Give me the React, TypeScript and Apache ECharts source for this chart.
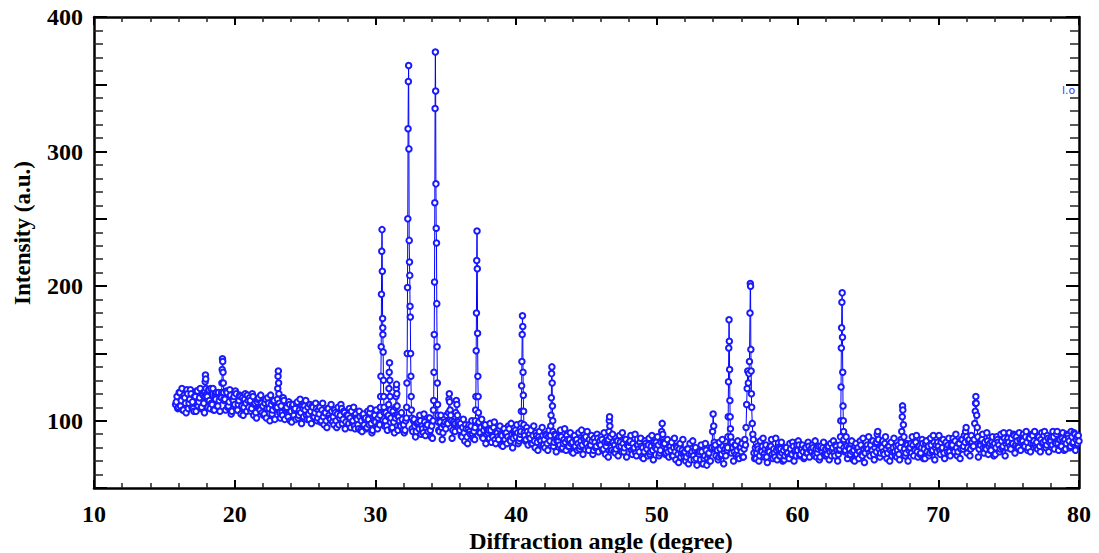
import React, { useEffect, useRef } from "react";
import * as echarts from "echarts";

// ---- data ----
const bgStart = 15.8;
const bgStep = 0.1;
// background intensities, one value every 0.1 degree from 15.8
const background: number[] = [
  112, 118,
  110, 121, 115, 108, 119, 113, 123, 109, 116, 120, // 16
  114, 107, 118, 122, 111, 117, 109, 120, 113, 116, // 17
  119, 110, 115, 124, 112, 108, 117, 121, 111, 115, // 18
  118, 113, 109, 116, 122, 110, 114, 119, 107, 115, // 19
  112, 120, 108, 115, 118, 111, 104, 116, 113, 119, // 20
  110, 115, 109, 118, 112, 106, 114, 117, 108, 113, // 21
  111, 105, 116, 109, 113, 100, 112, 108, 115, 110, // 22
  109, 113, 106, 111, 104, 115, 108, 110, 103, 112, // 23
  107, 111, 104, 109, 113, 102, 108, 106, 111, 103, // 24
  108, 104, 110, 101, 107, 111, 103, 106, 109, 102, // 25
  105, 99, 108, 103, 106, 100, 109, 104, 101, 107, // 26
  103, 108, 100, 105, 97, 104, 109, 101, 106, 99, // 27
  104, 98, 102, 107, 100, 96, 105, 101, 94, 103, // 28
  100, 104, 97, 102, 95, 101, 106, 98, 93, 100, // 29
  99, 95, 102, 97, 101, 94, 98, 100, 96, 103, // 30
  98, 102, 95, 99, 104, 97, 93, 100, 96, 101, // 31
  97, 93, 99, 102, 95, 98, 94, 100, 96, 92, // 32
  98, 94, 100, 96, 91, 99, 95, 97, 102, 93, // 33
  96, 92, 98, 94, 97, 93, 99, 95, 91, 97, // 34
  94, 98, 92, 96, 100, 93, 97, 91, 95, 99, // 35
  93, 89, 95, 91, 97, 88, 94, 92, 96, 90, // 36
  92, 96, 89, 94, 91, 95, 88, 93, 97, 90, // 37
  91, 87, 93, 89, 95, 86, 92, 88, 94, 90, // 38
  89, 93, 86, 91, 88, 94, 85, 90, 87, 92, // 39
  88, 91, 85, 90, 87, 84, 89, 86, 92, 88, // 40
  87, 83, 89, 85, 91, 84, 88, 86, 82, 89, // 41
  86, 90, 83, 88, 85, 81, 87, 84, 89, 85, // 42
  85, 82, 88, 80, 86, 84, 89, 81, 86, 83, // 43
  84, 88, 81, 86, 83, 79, 85, 82, 87, 84, // 44
  83, 80, 86, 82, 85, 78, 84, 81, 87, 83, // 45
  82, 86, 79, 84, 81, 85, 80, 83, 78, 84, // 46
  82, 79, 85, 81, 84, 77, 83, 80, 86, 82, // 47
  81, 85, 78, 83, 80, 76, 82, 79, 84, 81, // 48
  80, 77, 83, 79, 82, 75, 81, 78, 84, 80, // 49
  79, 82, 76, 80, 78, 83, 75, 79, 77, 81, // 50
  78, 74, 80, 77, 81, 75, 79, 73, 78, 76, // 51
  77, 73, 79, 75, 71, 77, 74, 78, 72, 76, // 52
  75, 71, 77, 68, 74, 78, 72, 76, 70, 79, // 53
  76, 80, 74, 78, 73, 79, 75, 81, 77, 74, // 54
  78, 75, 79, 76, 80, 77, 82, 78, 74, 80, // 55
  77, 73, 79, 71, 76, 80, 74, 78, 82, 76, // 56
  80, 76, 79, 74, 78, 81, 75, 79, 73, 78, // 57
  77, 81, 75, 79, 73, 78, 80, 74, 79, 76, // 58
  78, 74, 80, 76, 72, 79, 75, 81, 77, 74, // 59
  78, 82, 75, 79, 77, 73, 80, 76, 81, 78, // 60
  77, 80, 74, 79, 76, 81, 73, 78, 80, 75, // 61
  79, 75, 81, 77, 74, 80, 76, 82, 78, 75, // 62
  79, 82, 76, 80, 78, 81, 75, 79, 83, 77, // 63
  78, 81, 75, 80, 77, 82, 74, 79, 76, 80, // 64
  79, 76, 82, 78, 75, 80, 77, 83, 79, 76, // 65
  80, 77, 83, 79, 76, 81, 78, 74, 80, 77, // 66
  81, 78, 75, 80, 77, 82, 79, 76, 82, 78, // 67
  80, 76, 82, 79, 84, 77, 81, 75, 80, 83, // 68
  79, 83, 77, 81, 76, 82, 78, 84, 80, 77, // 69
  81, 78, 84, 80, 76, 83, 79, 82, 77, 81, // 70
  82, 78, 85, 80, 77, 83, 79, 86, 81, 78, // 71
  83, 80, 86, 79, 84, 81, 78, 85, 82, 79, // 72
  82, 86, 80, 84, 79, 85, 81, 78, 84, 82, // 73
  83, 80, 86, 82, 79, 85, 81, 87, 83, 80, // 74
  84, 81, 87, 83, 89, 82, 85, 80, 86, 84, // 75
  85, 82, 88, 84, 80, 87, 83, 89, 85, 82, // 76
  84, 88, 81, 86, 83, 89, 85, 82, 87, 84, // 77
  85, 82, 88, 84, 90, 83, 86, 81, 87, 85, // 78
  86, 83, 89, 85, 81, 88, 84, 90, 86, 83, // 79
  85,
];

// interleaved background readings, one every 0.1 degree from 15.85
const bg2Start = 15.85;
const background2: number[] = [
  114, 109,
  121, 111, 124, 108, 117, 106, 120, 113, 123, 110, // 16
  109, 118, 107, 122, 114, 124, 110, 119, 106, 116, // 17
  118, 123, 109, 113, 124, 108, 116, 111, 121, 107, // 18
  106, 119, 115, 108, 121, 111, 123, 105, 116, 118, // 19
  122, 108, 112, 119, 105, 117, 110, 120, 107, 115, // 20
  117, 107, 120, 104, 113, 102, 116, 109, 119, 106, // 21
  104, 113, 102, 117, 109, 119, 105, 114, 101, 111, // 22
  111, 116, 102, 106, 117, 101, 109, 104, 114, 100, // 23
  99, 112, 108, 101, 114, 104, 116, 98, 109, 111, // 24
  115, 101, 105, 112, 98, 110, 103, 113, 100, 108, // 25
  110, 100, 113, 97, 106, 95, 109, 102, 112, 99, // 26
  97, 106, 95, 110, 102, 112, 98, 107, 94, 104, // 27
  104, 109, 95, 99, 110, 94, 102, 97, 107, 93, // 28
  92, 105, 101, 94, 107, 97, 109, 91, 102, 104, // 29
  108, 94, 98, 105, 91, 103, 96, 106, 93, 101, // 30
  104, 94, 107, 91, 100, 89, 103, 96, 106, 93, // 31
  91, 100, 89, 104, 96, 106, 92, 101, 88, 98, // 32
  99, 104, 90, 94, 105, 89, 97, 92, 102, 88, // 33
  87, 100, 96, 89, 102, 92, 104, 86, 97, 99, // 34
  104, 90, 94, 101, 87, 99, 92, 102, 89, 97, // 35
  98, 88, 101, 85, 94, 83, 97, 90, 100, 87, // 36
  86, 95, 84, 99, 91, 101, 87, 96, 83, 93, // 37
  93, 98, 84, 88, 99, 83, 91, 86, 96, 82, // 38
  81, 94, 90, 83, 96, 86, 98, 80, 91, 93, // 39
  97, 83, 87, 94, 80, 92, 85, 95, 82, 90, // 40
  93, 83, 96, 80, 89, 78, 92, 85, 95, 82, // 41
  80, 89, 78, 93, 85, 95, 81, 90, 77, 87, // 42
  88, 93, 79, 83, 94, 78, 86, 81, 91, 77, // 43
  76, 89, 85, 78, 91, 81, 93, 75, 86, 88, // 44
  92, 78, 82, 89, 75, 87, 80, 90, 77, 85, // 45
  88, 78, 91, 75, 84, 73, 87, 80, 90, 77, // 46
  76, 85, 74, 89, 81, 91, 77, 86, 73, 83, // 47
  84, 89, 75, 79, 90, 74, 82, 77, 87, 73, // 48
  72, 85, 81, 74, 87, 77, 89, 71, 82, 84, // 49
  88, 74, 78, 85, 71, 83, 76, 86, 73, 81, // 50
  84, 74, 87, 71, 80, 69, 83, 76, 86, 73, // 51
  70, 79, 68, 83, 75, 85, 71, 80, 67, 77, // 52
  77, 82, 68, 72, 83, 67, 75, 70, 80, 66, // 53
  69, 82, 78, 71, 84, 74, 86, 68, 79, 81, // 54
  87, 73, 77, 84, 70, 82, 75, 85, 72, 80, // 55
  83, 73, 86, 70, 79, 68, 82, 75, 85, 72, // 56
  72, 81, 70, 85, 77, 87, 73, 82, 69, 79, // 57
  81, 86, 72, 76, 87, 71, 79, 74, 84, 70, // 58
  71, 80, 76, 73, 83, 75, 84, 70, 78, 82, // 59
  85, 74, 79, 82, 72, 80, 76, 84, 73, 79, // 60
  82, 75, 85, 73, 79, 71, 81, 77, 84, 74, // 61
  74, 80, 71, 83, 78, 85, 74, 81, 70, 78, // 62
  82, 87, 73, 77, 88, 72, 80, 75, 85, 71, // 63
  70, 83, 79, 72, 85, 75, 87, 69, 80, 82, // 64
  88, 74, 78, 85, 71, 83, 76, 86, 73, 81, // 65
  85, 75, 88, 72, 81, 70, 84, 77, 87, 74, // 66
  73, 82, 71, 86, 78, 88, 74, 83, 70, 80, // 67
  83, 88, 74, 78, 89, 73, 81, 76, 86, 72, // 68
  72, 85, 81, 74, 87, 77, 89, 71, 82, 84, // 69
  89, 75, 79, 86, 72, 84, 77, 87, 74, 82, // 70
  87, 77, 90, 74, 83, 72, 86, 79, 89, 76, // 71
  76, 85, 74, 89, 81, 91, 77, 86, 73, 83, // 72
  85, 90, 76, 80, 91, 75, 83, 78, 88, 74, // 73
  75, 88, 84, 77, 90, 80, 91, 74, 85, 87, // 74
  91, 79, 83, 90, 76, 88, 81, 91, 78, 86, // 75
  90, 81, 92, 78, 87, 77, 90, 83, 92, 80, // 76
  79, 88, 77, 91, 84, 92, 80, 89, 77, 86, // 77
  88, 92, 79, 83, 92, 78, 86, 81, 91, 78, // 78
  79, 90, 87, 80, 92, 83, 91, 78, 88, 89, // 79
];

// diffraction peaks, sampled finely: [angle, intensity]
const peak1794: number[][] = [[17.86, 118], [17.88, 122], [17.9, 129], [17.92, 134], [17.94, 131], [17.96, 124], [17.98, 119]];
const peak1915: number[][] = [[19.05, 117], [19.07, 121], [19.09, 128], [19.11, 138], [19.13, 146], [19.15, 144], [19.17, 136], [19.19, 128], [19.21, 121], [19.23, 116]];
const peak2310: number[][] = [[23.02, 110], [23.04, 116], [23.06, 124], [23.08, 133], [23.1, 137], [23.12, 128], [23.14, 120], [23.16, 113]];
const peak3047: number[][] = [[30.33, 104], [30.35, 110], [30.37, 118], [30.39, 133], [30.41, 155], [30.43, 194], [30.45, 226], [30.47, 242], [30.49, 211], [30.51, 176], [30.52, 169], [30.53, 164], [30.55, 151], [30.57, 130], [30.59, 118], [30.61, 110], [30.63, 106]];
const peak3100: number[][] = [[30.92, 104], [30.94, 112], [30.96, 124], [30.98, 136], [31.0, 143], [31.02, 130], [31.04, 118], [31.06, 108]];
const peak3150: number[][] = [[31.42, 102], [31.44, 110], [31.46, 118], [31.48, 124], [31.5, 127], [31.52, 120], [31.54, 111], [31.56, 104]];
const peak3236: number[][] = [[32.2, 102], [32.22, 110], [32.24, 128], [32.26, 150], [32.28, 199], [32.3, 250], [32.32, 317], [32.34, 352], [32.36, 364], [32.38, 302], [32.4, 234], [32.42, 218], [32.44, 208], [32.46, 185], [32.48, 177], [32.5, 150], [32.52, 133], [32.54, 118], [32.56, 108], [32.58, 102]];
const peak3426: number[][] = [[34.1, 100], [34.12, 108], [34.14, 115], [34.16, 136], [34.18, 164], [34.2, 203], [34.22, 262], [34.24, 332], [34.26, 374], [34.28, 345], [34.3, 276], [34.32, 243], [34.34, 232], [34.36, 187], [34.38, 155], [34.4, 128], [34.42, 112], [34.44, 104], [34.46, 99]];
const peak3525: number[][] = [[35.15, 98], [35.19, 106], [35.23, 116], [35.25, 120], [35.27, 114], [35.31, 108], [35.35, 104]];
const peak3575: number[][] = [[35.67, 98], [35.71, 106], [35.75, 115], [35.79, 112], [35.83, 104], [35.87, 98]];
const peak3722: number[][] = [[37.08, 95], [37.1, 100], [37.12, 108], [37.14, 118], [37.16, 152], [37.18, 180], [37.2, 219], [37.22, 241], [37.24, 213], [37.26, 165], [37.28, 133], [37.3, 118], [37.32, 106], [37.34, 98]];
const peak4047: number[][] = [[40.33, 92], [40.35, 98], [40.37, 107], [40.39, 126], [40.41, 144], [40.43, 164], [40.45, 178], [40.47, 170], [40.49, 136], [40.51, 119], [40.53, 107], [40.55, 97], [40.57, 91]];
const peak4256: number[][] = [[42.44, 89], [42.46, 96], [42.48, 104], [42.5, 117], [42.52, 135], [42.54, 140], [42.56, 128], [42.58, 111], [42.6, 100], [42.62, 92]];
const peak4666: number[][] = [[46.56, 86], [46.6, 92], [46.62, 100], [46.64, 103], [46.66, 96], [46.7, 88]];
const peak5038: number[][] = [[50.3, 84], [50.34, 92], [50.38, 98], [50.42, 90], [50.46, 84]];
const peak5400: number[][] = [[53.92, 80], [53.96, 92], [54.0, 105], [54.04, 96], [54.08, 84]];
const peak5517: number[][] = [[55.03, 80], [55.05, 88], [55.07, 103], [55.09, 129], [55.11, 154], [55.13, 175], [55.15, 159], [55.17, 138], [55.19, 115], [55.21, 103], [55.23, 94], [55.25, 88], [55.27, 84]];
const peak5664: number[][] = [[56.3, 82], [56.34, 95], [56.38, 112], [56.42, 124], [56.46, 137], [56.5, 128], [56.54, 135], [56.58, 144], [56.62, 180], [56.64, 202], [56.66, 200], [56.68, 153], [56.7, 137], [56.72, 120], [56.74, 110], [56.78, 98], [56.82, 90], [56.86, 86]];
const peak6317: number[][] = [[63.03, 82], [63.05, 88], [63.07, 100], [63.09, 125], [63.11, 154], [63.13, 169], [63.15, 188], [63.17, 195], [63.19, 162], [63.21, 136], [63.23, 111], [63.25, 100], [63.27, 92], [63.29, 86]];
const peak6568: number[][] = [[65.62, 84], [65.66, 90], [65.7, 92], [65.74, 86]];
const peak6746: number[][] = [[67.36, 84], [67.4, 92], [67.44, 103], [67.46, 111], [67.48, 108], [67.52, 97], [67.56, 88]];
const peak7196: number[][] = [[71.9, 84], [71.94, 92], [71.98, 95], [72.02, 88]];
const peak7267: number[][] = [[72.55, 86], [72.59, 98], [72.63, 107], [72.65, 113], [72.67, 118], [72.69, 113], [72.73, 104], [72.77, 95], [72.81, 88]];

const peaks = [
  peak1794, peak1915, peak2310, peak3047, peak3100, peak3150, peak3236, peak3426,
  peak3525, peak3575, peak3722, peak4047, peak4256, peak4666, peak5038, peak5400,
  peak5517, peak5664, peak6317, peak6568, peak6746, peak7196, peak7267,
];

const xTickLabels = [10, 20, 30, 40, 50, 60, 70, 80];
const yTickLabels = [100, 200, 300, 400];

function buildSeries(): number[][] {
  const ranges = peaks.map((p) => [p[0][0], p[p.length - 1][0]]);
  const pts: number[][] = [];
  const addBg = (arr: number[], start: number) =>
    arr.forEach((v, i) => {
      const x = +(start + i * bgStep).toFixed(2);
      if (!ranges.some(([a, b]) => x >= a && x <= b)) pts.push([x, v]);
    });
  addBg(background, bgStart);
  addBg(background2, bg2Start);
  peaks.forEach((p) => p.forEach((q) => pts.push([q[0], q[1]])));
  pts.sort((a, b) => a[0] - b[0]);
  return pts;
}

const FONT = "'Liberation Serif', 'Times New Roman', serif";

export default function App() {
  const ref = useRef<HTMLDivElement>(null);
  useEffect(() => {
    const chart = echarts.init(ref.current!, null, { renderer: "svg" });
    const data = buildSeries();
    const axisCommon = {
      type: "value" as const,
      axisLine: { show: true, onZero: false, lineStyle: { color: "#000", width: 2.5 } },
      splitLine: { show: false },
    };
    chart.setOption({
      animation: false,
      backgroundColor: "#fff",
      grid: { left: 94, right: 20, top: 17, bottom: 65, containLabel: false },
      xAxis: [
        {
          ...axisCommon,
          position: "bottom",
          min: 10,
          max: 80,
          interval: 10,
          axisTick: { show: true, inside: true, length: 8, lineStyle: { color: "#000", width: 2 } },
          minorTick: { show: true, splitNumber: 5, length: 5, lineStyle: { color: "#222", width: 1.5 } },
          axisLabel: {
            show: true,
            margin: 14,
            fontFamily: FONT,
            fontWeight: "bold",
            fontSize: 24,
            color: "#000",
            formatter: (v: number) => (xTickLabels.includes(v) ? String(v) : ""),
          },
        },
        {
          ...axisCommon,
          position: "top",
          min: 10,
          max: 80,
          interval: 10,
          axisTick: { show: true, inside: true, length: 8, lineStyle: { color: "#000", width: 2 } },
          minorTick: { show: true, splitNumber: 5, length: 5, lineStyle: { color: "#222", width: 1.5 } },
          axisLabel: { show: false },
        },
      ],
      yAxis: [
        {
          ...axisCommon,
          position: "left",
          min: 50,
          max: 400,
          interval: 50,
          axisTick: { show: true, inside: true, length: 13, lineStyle: { color: "#000", width: 2 } },
          minorTick: { show: true, splitNumber: 5, length: 9, lineStyle: { color: "#222", width: 1.5 } },
          axisLabel: {
            show: true,
            margin: 11,
            fontFamily: FONT,
            fontWeight: "bold",
            fontSize: 24,
            color: "#000",
            formatter: (v: number) => (yTickLabels.includes(v) ? String(v) : ""),
          },
        },
        {
          ...axisCommon,
          position: "right",
          min: 50,
          max: 400,
          interval: 50,
          axisTick: { show: true, inside: true, length: 13, lineStyle: { color: "#000", width: 2 } },
          minorTick: { show: true, splitNumber: 5, length: 9, lineStyle: { color: "#222", width: 1.5 } },
          axisLabel: { show: false },
        },
      ],
      series: [
        {
          type: "line",
          xAxisIndex: 0,
          yAxisIndex: 0,
          data,
          symbol: "emptyCircle",
          symbolSize: 5.5,
          showAllSymbol: true,
          lineStyle: { color: "#0000ff", width: 1 },
          itemStyle: { color: "#1a1aff", borderColor: "#1a1aff", borderWidth: 1 },
          emphasis: { disabled: true },
          z: 1,
        },
      ],
      graphic: [
        {
          type: "text",
          x: 22,
          y: 233,
          rotation: Math.PI / 2,
          style: {
            text: "Intensity (a.u.)",
            fontFamily: FONT,
            fontWeight: "bold",
            fontSize: 23,
            fill: "#000",
            align: "center",
            verticalAlign: "middle",
          },
        },
        {
          type: "text",
          x: 601,
          y: 541,
          style: {
            text: "Diffraction angle (degree)",
            fontFamily: FONT,
            fontWeight: "bold",
            fontSize: 24,
            fill: "#000",
            align: "center",
            verticalAlign: "middle",
          },
        },
        {
          type: "text",
          x: 1062,
          y: 90,
          style: {
            text: "l.o",
            fontFamily: "'DejaVu Sans', sans-serif",
            fontSize: 11,
            fill: "#3a3aff",
            align: "left",
            verticalAlign: "middle",
          },
        },
      ],
    });
    return () => chart.dispose();
  }, []);
  return (
    <div
      ref={ref}
      style={{ position: "absolute", left: 0, top: 0, width: 1099, height: 553 }}
    />
  );
}
